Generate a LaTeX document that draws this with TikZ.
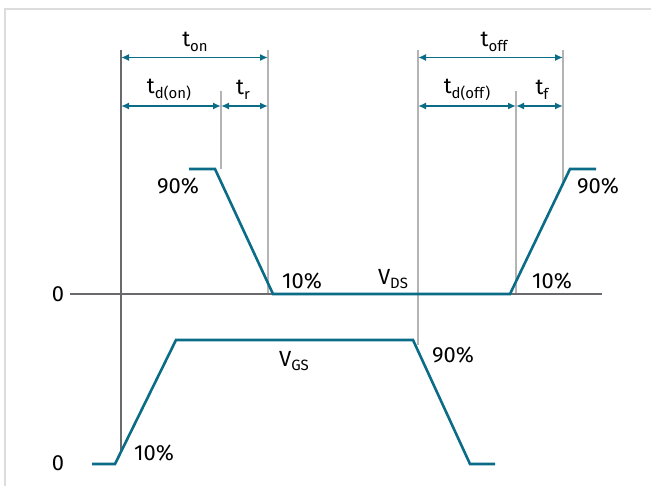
\documentclass[tikz,border=0pt]{standalone}
\usepackage{fontspec}
\setmainfont{Fira Sans}
\usetikzlibrary{arrows.meta}
\definecolor{teal}{HTML}{0B6C88}
\definecolor{frame}{HTML}{DCDCDC}
\definecolor{axis}{HTML}{6A6A6E}
\definecolor{guide}{HTML}{B4B4B4}
\newcommand{\sbs}[1]{{\fontsize{15}{15}\selectfont\raisebox{-4.5bp}{#1}}}
\begin{document}
\begin{tikzpicture}[x=1bp,y=-1bp,
  wave/.style={draw=teal,line width=2.6bp,line join=miter},
  dim/.style={draw=teal,line width=1.6bp,{Latex[length=8bp,width=7bp]}-{Latex[length=8bp,width=7bp]}},
  guideline/.style={draw=guide,line width=1.2bp},
  axisline/.style={draw=axis,line width=1.5bp},
  lbl/.style={font=\fontsize{22}{22}\selectfont,inner sep=0pt},
]
\useasboundingbox (0,0) rectangle (651,486);
\fill[white] (0,0) rectangle (651,486);
\draw[frame,line width=1.5bp] (5,486) -- (5,9) -- (651,9);

% waveform coordinates
\coordinate (d0) at (189,169);
\coordinate (d1) at (215,169);
\coordinate (d2) at (273,294);
\coordinate (d3) at (510,294);
\coordinate (d4) at (570,169);
\coordinate (d5) at (596,169);
\coordinate (g0) at (92,464);
\coordinate (g1) at (115,464);
\coordinate (g2) at (176,340);
\coordinate (g3) at (413,340);
\coordinate (g4) at (470,464);
\coordinate (g5) at (495,464);

% guide lines
\coordinate (a1) at (121,50);   \coordinate (a2) at (121,451);
\coordinate (b1) at (221,91);   \coordinate (b2) at (221,169);
\coordinate (c1) at (268,50);   \coordinate (c2) at (268,294);
\coordinate (e1) at (418,50);   \coordinate (e2) at (418,345);
\coordinate (f1) at (516,91);   \coordinate (f2) at (516,294);
\coordinate (h1) at (563,50);   \coordinate (h2) at (563,184);
\draw[guideline] (b1) -- (b2);
\draw[guideline] (c1) -- (c2);
\draw[guideline] (e1) -- (e2);
\draw[guideline] (f1) -- (f2);
\draw[guideline] (h1) -- (h2);
\draw[axisline] (a1) -- (a2);

% axis
\node[lbl] (zero1) at (58,294) {0};
\node[lbl] (zero2) at (58,463) {0};
\coordinate (ax0) at (70,294);
\coordinate (ax1) at (602,294);
\draw[axisline] (ax0) -- (ax1);

% waves
\draw[wave] (d0) -- (d1) -- (d2) -- (d3) -- (d4) -- (d5);
\draw[wave] (g0) -- (g1) -- (g2) -- (g3) -- (g4) -- (g5);

% dimension arrows
\coordinate (ton0) at (121,57.5);  \coordinate (ton1) at (268,57.5);
\coordinate (td0) at (121,106);    \coordinate (td1) at (221,106);
\coordinate (tr1) at (268,106);
\coordinate (toff0) at (418,57.5); \coordinate (toff1) at (563,57.5);
\coordinate (tdo0) at (418,106);   \coordinate (tdo1) at (516,106);
\coordinate (tf1) at (563,106);
\draw[dim] (ton0) -- (ton1);
\draw[dim] (td0) -- (td1);
\draw[dim] (td1) -- (tr1);
\draw[dim] (toff0) -- (toff1);
\draw[dim] (tdo0) -- (tdo1);
\draw[dim] (tdo1) -- (tf1);

% labels
\node[lbl] (lton) at (195,42) {t\sbs{on}};
\node[lbl] (ltd) at (169,90) {t\sbs{d(on)}};
\node[lbl] (ltr) at (243,90) {t\sbs{r}};
\node[lbl] (ltoff) at (494,42) {t\sbs{off}};
\node[lbl] (ltdo) at (467,90) {t\sbs{d(off)}};
\node[lbl] (ltf) at (542,90) {t\sbs{f}};

\node[lbl] (p90a) at (178,186) {90\%};
\node[lbl] (p10a) at (302,281) {10\%};
\node[lbl] (p90b) at (598,186) {90\%};
\node[lbl] (p10b) at (552,281) {10\%};
\node[lbl] (vds) at (393,279) {V\sbs{DS}};
\node[lbl] (vgs) at (294,361) {V\sbs{GS}};
\node[lbl] (p90c) at (453,355) {90\%};
\node[lbl] (p10c) at (154,453) {10\%};
\end{tikzpicture}
\end{document}
